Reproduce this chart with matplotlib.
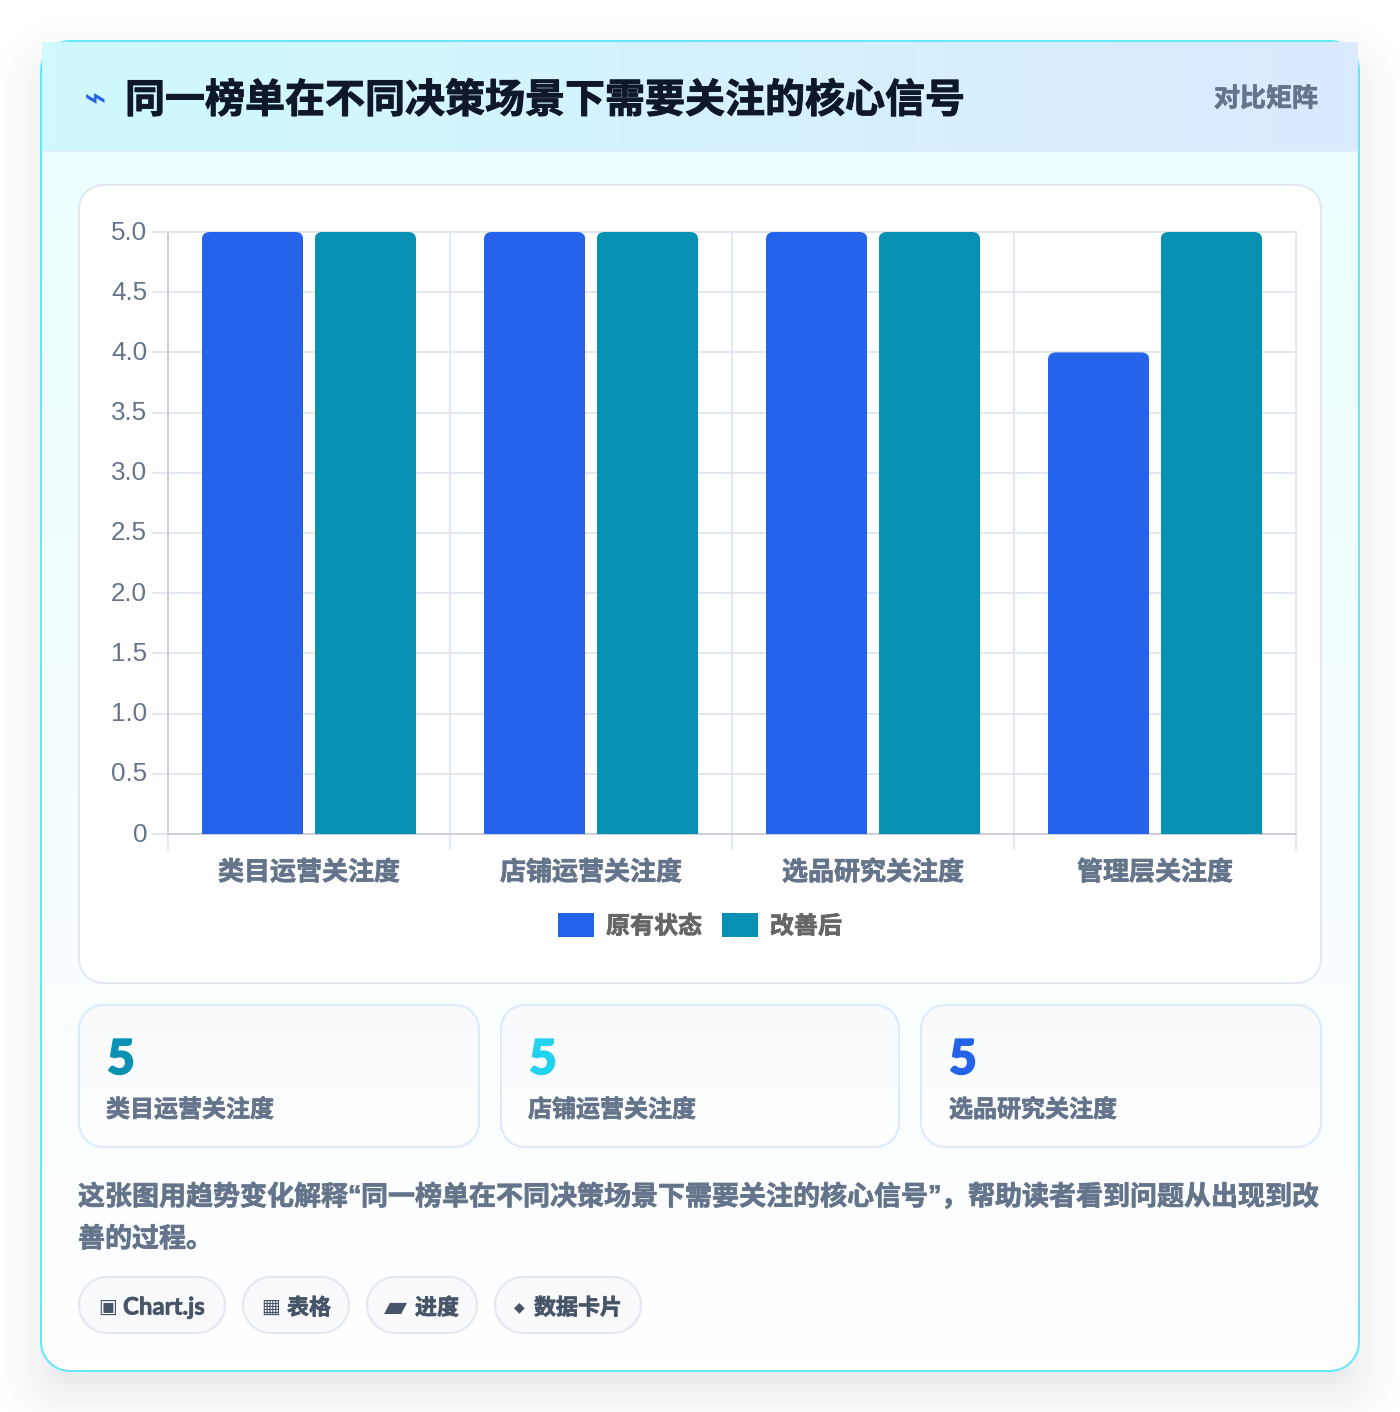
import numpy as np
import matplotlib
matplotlib.use("Agg")
import matplotlib.pyplot as plt
import matplotlib.patheffects as pe
from matplotlib.patches import Rectangle, PathPatch
from matplotlib.path import Path
from matplotlib.colors import LinearSegmentedColormap
from matplotlib.ticker import FixedLocator, FixedFormatter
from matplotlib.transforms import ScaledTranslation

# ---------- data ----------
title = "同一榜单在不同决策场景下需要关注的核心信号"
badge = "对比矩阵"
categories = ["类目运营关注度", "店铺运营关注度", "选品研究关注度", "管理层关注度"]
series_names = ["原有状态", "改善后"]
before_values = [5, 5, 5, 4]
after_values = [5, 5, 5, 5]
y_ticks = [0, 0.5, 1.0, 1.5, 2.0, 2.5, 3.0, 3.5, 4.0, 4.5, 5.0]
y_tick_labels = ["0", "0.5", "1.0", "1.5", "2.0", "2.5", "3.0", "3.5", "4.0", "4.5", "5.0"]
stat_values = ["5", "5", "5"]
stat_labels = ["类目运营关注度", "店铺运营关注度", "选品研究关注度"]
stat_colors = ["#0891b2", "#22d3ee", "#2563eb"]
pill_icons = ["▣", "▦", "▰", "◆"]
pill_labels = ["Chart.js", "表格", "进度", "数据卡片"]

CJK = ["Noto Sans CJK SC", "DejaVu Sans"]
plt.rcParams["font.family"] = CJK
W, H = 1400, 1412
PX = 0.72
fig = plt.figure(figsize=(W / 100, H / 100), dpi=100, facecolor="#ffffff")

bg = fig.add_axes([0, 0, 1, 1], zorder=0)
bg.set_xlim(0, W)
bg.set_ylim(H, 0)
bg.axis("off")


def rbox(x0, y0, x1, y1, r, **kw):
    k = r * (1 - 0.5523)
    v = [(x0 + r, y0), (x1 - r, y0), (x1 - k, y0), (x1, y0 + k), (x1, y0 + r),
         (x1, y1 - r), (x1, y1 - k), (x1 - k, y1), (x1 - r, y1),
         (x0 + r, y1), (x0 + k, y1), (x0, y1 - k), (x0, y1 - r),
         (x0, y0 + r), (x0, y0 + k), (x0 + k, y0), (x0 + r, y0), (x0 + r, y0)]
    c = [Path.MOVETO, Path.LINETO, Path.CURVE4, Path.CURVE4, Path.CURVE4,
         Path.LINETO, Path.CURVE4, Path.CURVE4, Path.CURVE4,
         Path.LINETO, Path.CURVE4, Path.CURVE4, Path.CURVE4,
         Path.LINETO, Path.CURVE4, Path.CURVE4, Path.CURVE4, Path.CLOSEPOLY]
    p = PathPatch(Path(v, c), **kw)
    bg.add_patch(p)
    return p


def grad(x0, y0, x1, y1, c0, c1, horizontal=False, clip=None, z=1):
    cm = LinearSegmentedColormap.from_list("g", [c0, c1])
    a = np.linspace(0, 1, 256)
    a = a.reshape(1, -1) if horizontal else a.reshape(-1, 1)
    im = bg.imshow(a, cmap=cm, extent=(x0, x1, y1, y0), aspect="auto",
                   vmin=0, vmax=1, zorder=z, interpolation="bilinear")
    if clip is not None:
        im.set_clip_path(clip)
    return im


# page shadow
yy, xx = np.mgrid[0:H, 0:W]
cx, cy = 700, 706 + 22
hw, hh, rr = 659, 665, 28
qx = np.abs(xx + .5 - cx) - (hw - rr)
qy = np.abs(yy + .5 - cy) - (hh - rr)
d = np.hypot(np.maximum(qx, 0), np.maximum(qy, 0)) + np.minimum(np.maximum(qx, qy), 0) - rr
al = 0.105 * 0.5 * (1 - np.tanh(d / 30))
shadow = np.zeros((H, W, 4))
shadow[..., 0] = 15 / 255
shadow[..., 1] = 23 / 255
shadow[..., 2] = 42 / 255
shadow[..., 3] = al
bg.imshow(shadow, extent=(0, W, H, 0), aspect="auto", zorder=0.5)
bg.set_xlim(0, W)
bg.set_ylim(H, 0)

# card
card_clip = rbox(42, 42, 1358, 1370, 28, fc="none", ec="none", zorder=1)
grad(42, 150, 1358, 1370, "#ecfeff", "#ffffff", clip=card_clip, z=1.1)
rbox(41, 41, 1359, 1371, 29, fc="none", ec="#67e8f9", lw=2 * PX, zorder=1.2)
# header overflows the rounded corners
grad(42, 42, 1358, 151, "#cffafe", "#dbeafe", horizontal=True, z=1.3)
bg.add_patch(Rectangle((42, 150.5), 1316, 1.5, fc="#e2eff8", ec="none", zorder=1.4))

# chart panel
rbox(79, 185, 1321, 983, 24, fc="#ffffff", ec="#e2e8f0", lw=2 * PX, zorder=2)

# stat cards
for x0, x1 in [(79, 479), (501, 899), (921, 1321)]:
    clip = rbox(x0, 1005, x1, 1147, 24, fc="none", ec="none", zorder=2)
    grad(x0, 1005, x1, 1147, "#f8fafc", "#ffffff", clip=clip, z=2.1)
    rbox(x0, 1005, x1, 1147, 24, fc="none", ec="#dbeafe", lw=2 * PX, zorder=2.2)

# pills
pill_spans = [(79, 225), (243, 349), (367, 477), (495, 641)]
for x0, x1 in pill_spans:
    rbox(x0, 1277, x1, 1333, 28, fc="#f8fafc", ec="#e2e8f0", lw=2 * PX, zorder=2)

# ---------- chart ----------
ax = fig.add_axes([168 / W, 1 - 834 / H, (1296 - 168) / W, (834 - 232) / H], zorder=3)
ax.patch.set_alpha(0)
ax.set_xlim(-0.5, 3.5)
ax.set_ylim(0, 5)
x = np.arange(len(categories))
bw = 0.36
off = 0.2
colors = ["#2563eb", "#0891b2"]
b1 = ax.bar(x - off, before_values, bw, color=colors[0], label=series_names[0], zorder=3, linewidth=0)
b2 = ax.bar(x + off, after_values, bw, color=colors[1], label=series_names[1], zorder=3, linewidth=0)

rx = 8 / (1128 / 4)
ry = 8 / (602 / 5)
for rect in list(b1) + list(b2):
    x0, w, h = rect.get_x(), rect.get_width(), rect.get_height()
    x1 = x0 + w
    verts = [(x0, 0), (x0, h - ry), (x0, h), (x0 + rx, h), (x1 - rx, h), (x1, h), (x1, h - ry), (x1, 0), (x0, 0)]
    codes = [Path.MOVETO, Path.LINETO, Path.CURVE3, Path.CURVE3, Path.LINETO,
             Path.CURVE3, Path.CURVE3, Path.LINETO, Path.CLOSEPOLY]
    rect.set_clip_path(Path(verts, codes), ax.transData)

grid_c = "#e2e8f0"
ax.yaxis.set_major_locator(FixedLocator(y_ticks))
ax.yaxis.set_major_formatter(FixedFormatter(y_tick_labels))
ax.xaxis.set_major_locator(FixedLocator(list(x)))
ax.xaxis.set_major_formatter(FixedFormatter(categories))
ax.xaxis.set_minor_locator(FixedLocator([-0.5, 0.5, 1.5, 2.5, 3.5]))
ax.grid(True, axis="y", which="major", color=grid_c, lw=2 * PX, zorder=1)
ax.grid(True, axis="x", which="minor", color=grid_c, lw=2 * PX, zorder=1)
ax.grid(False, axis="x", which="major")
ax.set_axisbelow(True)
ax.tick_params(axis="y", length=16 * PX, width=2 * PX, color=grid_c, pad=5 * PX)
ax.tick_params(axis="x", which="major", length=0, pad=25 * PX)
ax.tick_params(axis="x", which="minor", length=16 * PX, width=2 * PX, color=grid_c)
thick = [pe.withStroke(linewidth=0.5, foreground="#64748b")]
shift = ScaledTranslation(0, 2 / 100, fig.dpi_scale_trans)
for tick in ax.yaxis.get_major_ticks():
    lab = tick.label1
    lab.set_fontfamily(["Liberation Sans"])
    lab.set_fontsize(26 * PX)
    lab.set_color("#64748b")
    lab.set_transform(lab.get_transform() + shift)
for lab in ax.get_xticklabels():
    lab.set_fontsize(26 * PX)
    lab.set_fontweight("bold")
    lab.set_color("#64748b")
    lab.set_path_effects(thick)
for s in ["top", "right"]:
    ax.spines[s].set_color(grid_c)
    ax.spines[s].set_linewidth(2 * PX)
for s in ["left", "bottom"]:
    ax.spines[s].set_color("#cbd0da")
    ax.spines[s].set_linewidth(2 * PX)

leg = ax.legend(loc="center", bbox_to_anchor=(700 / W, 1 - 926 / H), bbox_transform=fig.transFigure,
                ncol=2, frameon=False, borderpad=0, borderaxespad=0,
                handlelength=1.5, handleheight=1.15, handletextpad=0.5, columnspacing=0.83,
                prop={"family": CJK, "weight": "bold", "size": 24 * PX}, labelcolor="#666666")
for t in leg.get_texts():
    t.set_path_effects([pe.withStroke(linewidth=0.5, foreground="#666666")])


# ---------- text layer ----------
def T(px, py, s, size, color, weight="bold", ha="left", family=None, z=5, stroke=0.5):
    t = bg.text(px, py, s, fontsize=size * PX, color=color, fontweight=weight, ha=ha, va="center",
                family=family or CJK, zorder=z)
    if stroke:
        t.set_path_effects([pe.withStroke(linewidth=stroke, foreground=color)])
    return t


T(84, 100, "⌁", 38, "#2563eb", weight="normal", family=["DejaVu Sans"], stroke=0)
T(125, 101, title, 40, "#0f172a", stroke=0.7)
T(1318, 99, badge, 26, "#64748b", ha="right")

for x0, xt, v, lbl, col in zip([79, 501, 921], [106, 528, 949], stat_values, stat_labels, stat_colors):
    T(x0 + 28, 1060, v, 48, col, weight=900, family=["Lato", "DejaVu Sans"], stroke=1.2)
    T(xt, 1110, lbl, 24, "#64748b")

desc_segments = [("这张图用趋势变化解释", CJK), ("“", ["Liberation Sans"]), (title, CJK), ("”", ["Liberation Sans"]),
                 ("，帮助读者看到问题从出现到改", CJK)]
px = 78
for seg, fam in desc_segments:
    T(px, 1197, seg, 27, "#64748b", family=fam)
    px += len(seg) * 27 if fam == CJK else 13
T(78, 1239, "善的过程。", 27, "#64748b")

icon_specs = [(98, 20), (261, 20), (384, 30), (514, 14)]
text_x = [123, 287, 415, 534]
for (ix, isz), tx, ic, lb in zip(icon_specs, text_x, pill_icons, pill_labels):
    T(ix, 1307, ic, isz, "#475569", weight="normal", family=["DejaVu Sans"], stroke=0)
    if lb == "Chart.js":
        T(tx, 1307, lb, 24, "#475569", family=["Lato"])
    else:
        T(tx, 1308, lb, 22, "#475569", family=["Noto Sans CJK SC"])

fig.savefig("out.png", dpi=100, facecolor=fig.get_facecolor())
